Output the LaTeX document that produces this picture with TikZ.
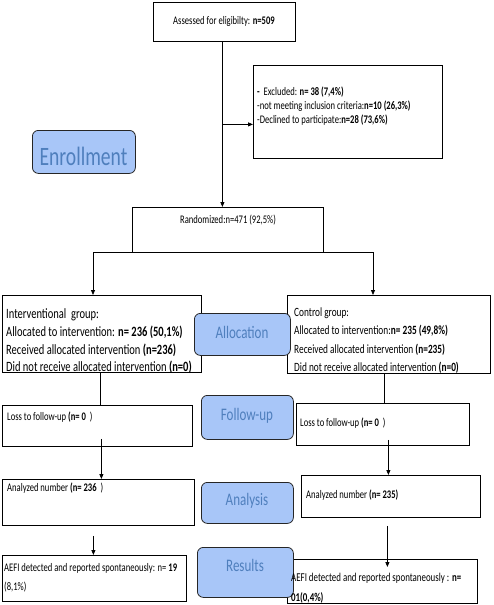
\documentclass[tikz,border=0pt]{standalone}
\usepackage{fontspec}
\setmainfont[FakeStretch=0.74]{Carlito}
\usetikzlibrary{arrows.meta,calc}

\definecolor{stagefill}{RGB}{168,198,248}
\definecolor{stagetext}{RGB}{79,127,189}

\tikzset{
	box/.style={draw,line width=0.8pt,inner sep=0pt,anchor=north west},
	stage/.style={draw=black!85,line width=0.8pt,fill=stagefill,rounded corners=6pt,
		inner sep=0pt,anchor=north west},
	txt/.style={inner sep=0pt,align=left,anchor=west,font=\fontsize{11.6}{14}\selectfont},
	stagetxt/.style={inner sep=0pt,text=stagetext,font=\fontsize{17.6}{20}\selectfont},
	arr/.style={-{Triangle[length=5pt,width=4pt]},line width=0.8pt},
	link/.style={line width=0.8pt}
}

\begin{document}
\begin{tikzpicture}[x=1pt,y=-1pt]
	\useasboundingbox (0,0) rectangle (494,605);

	% boxes
	\node[box,minimum width=142pt,minimum height=39pt] (assess) at (153,2) {};
	\node[box,minimum width=189pt,minimum height=93pt] (excl) at (253,65) {};
	\node[box,minimum width=191pt,minimum height=45pt] (rand) at (132,207) {};
	\node[box,minimum width=199pt,minimum height=77pt] (interv) at (2,295) {};
	\node[box,minimum width=203pt,minimum height=78pt] (ctrl) at (287,295) {};
	\node[box,minimum width=190pt,minimum height=41pt] (lossL) at (2,405) {};
	\node[box,minimum width=173pt,minimum height=42pt] (lossR) at (296,403) {};
	\node[box,minimum width=192pt,minimum height=46pt] (anaL) at (2,479) {};
	\node[box,minimum width=179pt,minimum height=42pt] (anaR) at (301,475) {};
	\node[box,minimum width=184pt,minimum height=46pt] (aefiL) at (2,555) {};
	\node[box,minimum width=190pt,minimum height=44pt] (aefiR) at (287,559) {};

	% stages
	\node[stage,minimum width=103pt,minimum height=43pt] (enroll) at (32,130) {};
	\node[stage,minimum width=96pt,minimum height=42pt] (alloc) at (194,313) {};
	\node[stage,minimum width=92pt,minimum height=44pt] (follow) at (201,395) {};
	\node[stage,minimum width=92pt,minimum height=41pt] (analysis) at (201,482) {};
	\node[stage,minimum width=96pt,minimum height=50pt] (results) at (197,547) {};

	\node[stagetxt,font=\fontsize{26.5}{30}\selectfont] (enrollt) at (83.5,156) {Enrollment};
	\node[stagetxt] (alloct) at (242,332) {Allocation};
	\node[stagetxt] (followt) at (247,416) {Follow-up};
	\node[stagetxt] (analysist) at (247,501) {Analysis};
	\node[stagetxt] (resultst) at (245,565) {Results};

	% texts
	\node[txt,anchor=center] (assesst) at (224,21) {Assessed for eligibilty: \textbf{n=509}};
	\node[txt] (exclt) at (257,106) {\textbf{-}\ \ Excluded: \textbf{n= 38 (7,4\%)}\\
		-not meeting inclusion criteria:\textbf{n=10 (26,3\%)}\\
		-Declined to participate:\textbf{n=28 (73,6\%)}};
	\node[txt,anchor=center] (randt) at (228,220) {Randomized:n=471 (92,5\%)};
	\node[txt,font=\fontsize{14.2}{17.7}\selectfont] (intervt) at (6,341.5) {Interventional\ \ group:\\
		Allocated to intervention: \textbf{n= 236 (50,1\%)}\\
		Received allocated intervention \textbf{(n=236)}\\
		Did not receive allocated intervention \textbf{(n=0)}};
	\node[txt,font=\fontsize{12.6}{18.3}\selectfont] (ctrlt) at (294,340.5) {Control group:\\
		Allocated to intervention:\textbf{n= 235 (49,8\%)}\\
		Received allocated intervention \textbf{(n=235)}\\
		Did not receive allocated intervention \textbf{(n=0)}};
	\node[txt] (lossLt) at (7,417) {Loss to follow-up \textbf{(n= 0}\ \ )};
	\node[txt] (lossRt) at (300,423) {Loss to follow-up \textbf{(n= 0}\ \ )};
	\node[txt] (anaLt) at (7,488) {Analyzed number \textbf{(n= 236}\ \ )};
	\node[txt] (anaRt) at (306,495) {Analyzed number \textbf{(n= 235)}};
	\node[txt,font=\fontsize{11.6}{19}\selectfont] (aefiLt) at (4,577.5) {AEFI detected and reported spontaneously: n= \textbf{19}\\
		(8,1\%)};
	\node[txt,font=\fontsize{12}{20}\selectfont] (aefiRt) at (291,588) {AEFI detected and reported spontaneously : \textbf{n=}\\
		\textbf{01(0,4\%)}};

	% connectors
	\draw[arr] ([xshift=-2pt]assess.south) -- ([xshift=-2pt]assess.south |- rand.north);
	\draw[arr] ([xshift=-2pt,yshift=-12.5pt]assess.south |- excl.west) -- ([yshift=-12.5pt]excl.west);
	\coordinate (splitL) at (93,252);
	\coordinate (splitR) at (373,252);
	\draw[link] (splitL) -- (splitR);
	\draw[arr] (splitL) -- (splitL |- interv.north);
	\draw[arr] (splitR) -- (splitR |- ctrl.north);
	\draw[link] ([xshift=-1.5pt]interv.south) -- ([xshift=-1.5pt]interv.south |- lossL.north);
	\draw[link] ([xshift=-4.5pt]ctrl.south) -- ([xshift=-4.5pt]ctrl.south |- lossR.north);
	\draw[arr] ([shift={(4pt,8pt)}]lossL.south) -- ([xshift=4pt]lossL.south |- anaL.north);
	\draw[arr] ([shift={(5.5pt,6pt)}]lossR.south) -- ([xshift=5.5pt]lossR.south |- anaR.north);
	\draw[arr] ([shift={(-5pt,-10pt)}]anaL.south) -- ([xshift=-5pt]anaL.south |- aefiL.north);
	\draw[arr] ([shift={(-3.5pt,-8pt)}]anaR.south) -- ([xshift=-3.5pt,yshift=-8pt]anaR.south |- aefiR.north);
\end{tikzpicture}
\end{document}
